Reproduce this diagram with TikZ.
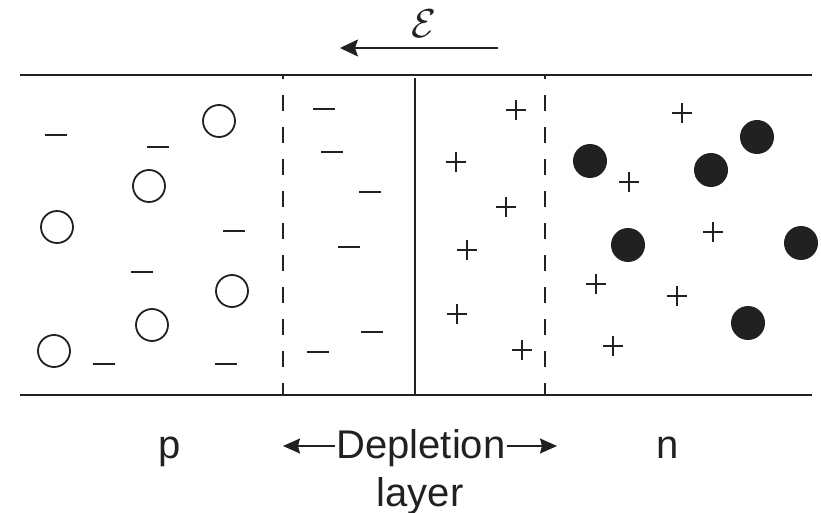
\documentclass[tikz,border=0pt]{standalone}
\usepackage{fontspec}
\setmainfont{Liberation Sans}
\usetikzlibrary{arrows.meta}
\definecolor{ink}{gray}{0.13}
\begin{document}
\begin{tikzpicture}[x=1pt,y=-1pt,
  bound/.style={line width=2.3pt, draw=ink},
  junction/.style={line width=2.4pt, draw=ink},
  dashedge/.style={line width=2.2pt, draw=ink, dash pattern=on 16pt off 16pt, dash phase=12pt},
  hole/.style={circle, draw=ink, line width=1.8pt, minimum size=32pt, inner sep=0pt},
  electron/.style={circle, fill=ink, minimum size=34pt, inner sep=0pt},
  charge/.style={line width=1.9pt, draw=ink},
  lbl/.style={font=\fontsize{40}{48}\selectfont, text=ink, inner sep=0pt, anchor=base},
  arr/.style={line width=1.8pt, draw=ink, -{Stealth[length=18pt, width=17pt, inset=3pt]}},
  smallarr/.style={line width=1.6pt, draw=ink, -{Stealth[length=17pt, width=15pt, inset=2pt]}},
]
\useasboundingbox (0,0) rectangle (821,513);

% boundaries
\coordinate (tl) at (20,75);
\coordinate (tr) at (812,75);
\coordinate (bl) at (20,395);
\coordinate (br) at (812,395);
\draw[bound] (tl) -- (tr);
\draw[bound] (bl) -- (br);

% depletion edges and junction
\coordinate (dlt) at (283,75);
\coordinate (dlb) at (283,395);
\coordinate (drt) at (545,75);
\coordinate (drb) at (545,395);
\coordinate (jt) at (415,78);
\coordinate (jb) at (415,395);
\draw[dashedge] (dlt) -- (dlb);
\draw[dashedge] (drt) -- (drb);
\draw[junction] (jt) -- (jb);

% field arrow and label
\coordinate (fs) at (498,48);
\coordinate (fe) at (340,48);
\draw[arr] (fs) -- (fe);
\node[lbl, font=\fontsize{24.88}{30}\selectfont, scale=1.62] (field) at (424,38) {$\mathcal{E}$};

% holes (p side)
\foreach \x/\y [count=\i] in {219/121, 149/186, 57/227, 232/291, 152/325, 54/351}
  \node[hole] (h\i) at (\x,\y) {};

% electrons (n side)
\foreach \x/\y [count=\i] in {590/161, 757/137, 711/170, 628/245, 801/243, 748/323}
  \node[electron] (e\i) at (\x,\y) {};

% minus charges
\foreach \x/\y in {56/135, 158/147, 234/231, 142/272, 104/364, 226/364,
                   324/109, 332/152, 370/192, 349/247, 372/332, 318/352}
  \draw[charge] ({\x-11},\y) -- ({\x+11},\y);

% plus charges
\foreach \x/\y in {516/110, 456/162, 506/207, 467/250, 457/314, 522/350,
                   682/113, 629/182, 713/232, 596/284, 677/296, 613/346}
  \draw[charge] ({\x-10},\y) -- ({\x+10},\y) (\x,{\y-10}) -- (\x,{\y+10});

% labels
\node[lbl] (p) at (170,458) {p};
\node[lbl] (n) at (668,458) {n};
\node[lbl] (dep) at (421,458) {Depletion};
\node[lbl] (layer) at (420,506) {layer};
\coordinate (dl) at (283,446);
\coordinate (dr) at (557,446);
\draw[smallarr] ([xshift=-1pt]dep.west |- dl) -- (dl);
\draw[smallarr] ([xshift=1pt]dep.east |- dr) -- (dr);
\end{tikzpicture}
\end{document}
